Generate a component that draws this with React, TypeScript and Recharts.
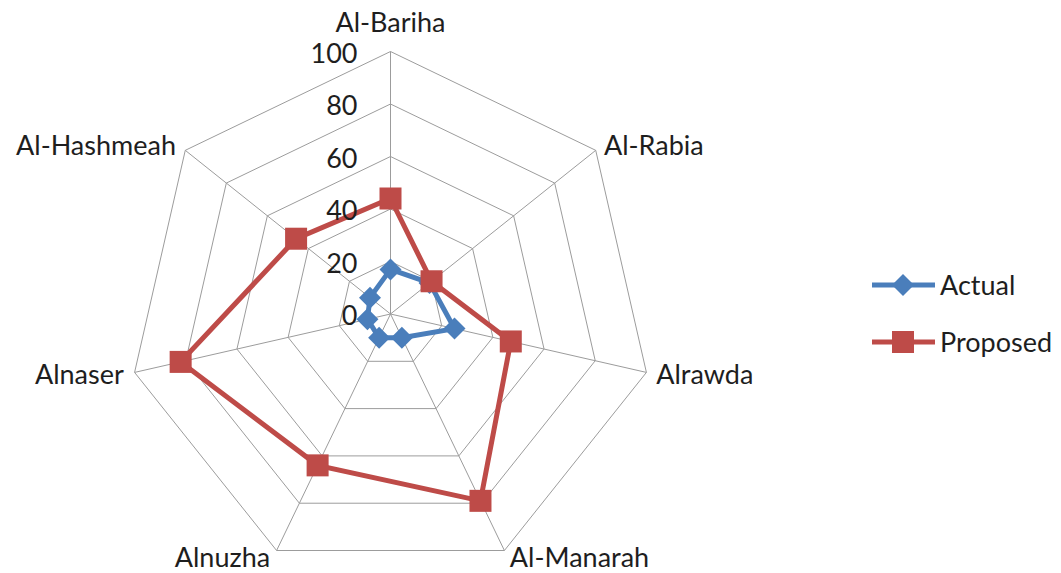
import React from "react";
import { RadarChart, Radar, PolarGrid, PolarAngleAxis, PolarRadiusAxis, Legend } from "recharts";

const categories = ["Al-Bariha", "Al-Rabia", "Alrawda", "Al-Manarah", "Alnuzha", "Alnaser", "Al-Hashmeah"];
const actualValues = [17, 19, 25, 10, 10, 9, 10];
const proposedValues = [44, 20, 47, 79, 64, 82, 46];
const radiusTicks = [0, 20, 40, 60, 80, 100];

const data = categories.map((c, i) => ({ name: c, Actual: actualValues[i], Proposed: proposedValues[i] }));

const BLUE = "#4A7EBB";
const RED = "#BE4B48";
const FONT = "Lato, 'Open Sans', sans-serif";
const FS = 27;
const TEXT = "#1e1e1e";

const AngleTick = (props: any) => {
  const { x, y, textAnchor, payload } = props;
  let ty = y + 9.5;
  let tx = x;
  if (textAnchor === "middle") ty = y - 12;
  if (textAnchor === "start") tx = x + 2;
  if (textAnchor === "end") tx = x - 3;
  return (
    <text x={tx} y={ty} textAnchor={textAnchor} fontFamily={FONT} fontSize={FS} fill={TEXT}>
      {payload.value}
    </text>
  );
};

const RadiusTick = (props: any) => {
  const { x, y, payload } = props;
  return (
    <text x={x - 33} y={y + 11} textAnchor="end" fontFamily={FONT} fontSize={FS} fill={TEXT}>
      {payload.value}
    </text>
  );
};

const SquareDot = (props: any) => {
  const { cx, cy } = props;
  return <rect key={`s-${cx}-${cy}`} x={cx - 11} y={cy - 11} width={22} height={22} fill={RED} />;
};

const DiamondDot = (props: any) => {
  const { cx, cy } = props;
  const r = 11;
  return (
    <path key={`d-${cx}-${cy}`} d={`M${cx},${cy - r}L${cx + r},${cy}L${cx},${cy + r}L${cx - r},${cy}Z`} fill={BLUE} />
  );
};

const LegendContent = () => (
  <svg width={200} height={110}>
    <line x1={12} y1={25} x2={75} y2={25} stroke={BLUE} strokeWidth={5} />
    <path d="M43,14L54,25L43,36L32,25Z" fill={BLUE} />
    <text x={80} y={35} fontFamily={FONT} fontSize={FS} fill={TEXT}>Actual</text>
    <line x1={12} y1={82} x2={75} y2={82} stroke={RED} strokeWidth={5} />
    <rect x={32} y={71} width={22} height={22} fill={RED} />
    <text x={80} y={92} fontFamily={FONT} fontSize={FS} fill={TEXT}>Proposed</text>
  </svg>
);

export default function App() {
  return (
    <div style={{ background: "#fff", margin: "-8px 0 0 -8px", width: 1061, height: 573 }}>
      <RadarChart
        width={1061}
        height={573}
        data={data}
        cx={390.5}
        cy={314}
        outerRadius={262.5}
        startAngle={90}
        endAngle={-270}
        margin={{ top: 0, right: 0, bottom: 0, left: 0 }}
      >
        <PolarGrid gridType="polygon" stroke="#9c9c9c" strokeWidth={1} />
        <PolarAngleAxis dataKey="name" tick={<AngleTick />} tickLine={false} axisLine={false} />
        <PolarRadiusAxis
          angle={90}
          domain={[0, 100]}
          ticks={radiusTicks}
          tickCount={6}
          axisLine={false}
          tick={<RadiusTick />}
        />
        <Radar
          name="Actual"
          dataKey="Actual"
          stroke={BLUE}
          strokeWidth={5}
          fill="none"
          fillOpacity={0}
          dot={<DiamondDot />}
          isAnimationActive={false}
        />
        <Radar
          name="Proposed"
          dataKey="Proposed"
          stroke={RED}
          strokeWidth={5}
          fill="none"
          fillOpacity={0}
          dot={<SquareDot />}
          isAnimationActive={false}
        />
        <Legend
          content={<LegendContent />}
          wrapperStyle={{ position: "absolute", left: 860, top: 260, width: 200, height: 110 }}
        />
      </RadarChart>
    </div>
  );
}
